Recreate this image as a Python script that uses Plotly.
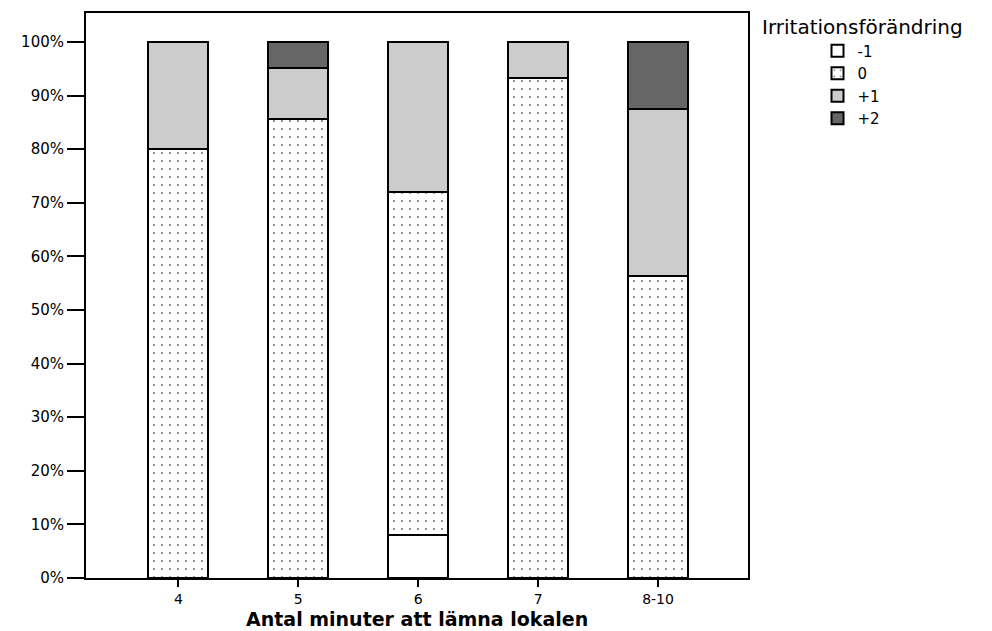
import plotly.graph_objects as go

categories = ["4", "5", "6", "7", "8-10"]
series_names = ["-1", "0", "+1", "+2"]
vals_m1 = [0, 0, 8.0, 0, 0]
vals_0 = [80.0, 85.7, 64.0, 93.3, 56.25]
vals_p1 = [20.0, 9.5, 28.0, 6.7, 31.25]
vals_p2 = [0, 4.8, 0, 0, 12.5]
y_ticks = [0, 10, 20, 30, 40, 50, 60, 70, 80, 90, 100]
y_tick_labels = [f"{v}%" for v in y_ticks]

FONT = "DejaVu Sans, Liberation Sans, Arial, sans-serif"

styles = {
    "-1": dict(color="white"),
    "0": dict(color="white", pattern=dict(shape=".", fgcolor="black", bgcolor="white", size=8, solidity=0.06)),
    "+1": dict(color="#cccccc"),
    "+2": dict(color="#666666"),
}

fig = go.Figure()
for name, vals in zip(series_names, [vals_m1, vals_0, vals_p1, vals_p2]):
    m = dict(styles[name])
    m["line"] = dict(color="black", width=2)
    fig.add_trace(go.Bar(x=categories, y=vals, name=name, marker=m, width=0.5))

fig.update_layout(
    barmode="stack",
    width=992, height=631,
    margin=dict(l=86, r=244, t=13, b=53),
    plot_bgcolor="white", paper_bgcolor="white",
    font=dict(family=FONT, size=13, color="black"),
    showlegend=True,
    legend=dict(x=1.105, y=0.962, xanchor="left", yanchor="top", traceorder="normal",
                font=dict(size=15, family=FONT), bgcolor="rgba(0,0,0,0)", itemsizing="constant"),
    annotations=[
        dict(text="Irritationsförändring", x=1.018, y=1.0, xref="paper", yref="paper",
             xanchor="left", yanchor="top", showarrow=False, font=dict(size=20, family=FONT)),
        dict(text="<b>Antal minuter att lämna lokalen</b>", x=0.5, y=-0.0935, xref="paper", yref="paper",
             xanchor="center", yanchor="bottom", showarrow=False, borderpad=0,
             font=dict(size=19, family=FONT)),
    ],
)
fig.update_xaxes(
    range=[-0.77, 4.75], showline=True, linecolor="black", linewidth=2, mirror=True,
    ticks="outside", ticklen=7, tickwidth=2, tickcolor="black", automargin=False,
    tickfont=dict(size=14),
)
fig.update_yaxes(
    range=[0, 105.4], tickvals=y_ticks, ticktext=y_tick_labels, showline=True, linecolor="black", linewidth=2,
    mirror=True, ticks="outside", ticklen=17, tickwidth=2, tickcolor="black", showgrid=False, zeroline=False,
    tickfont=dict(size=15), automargin=False,
)
fig.write_html("out.html")
